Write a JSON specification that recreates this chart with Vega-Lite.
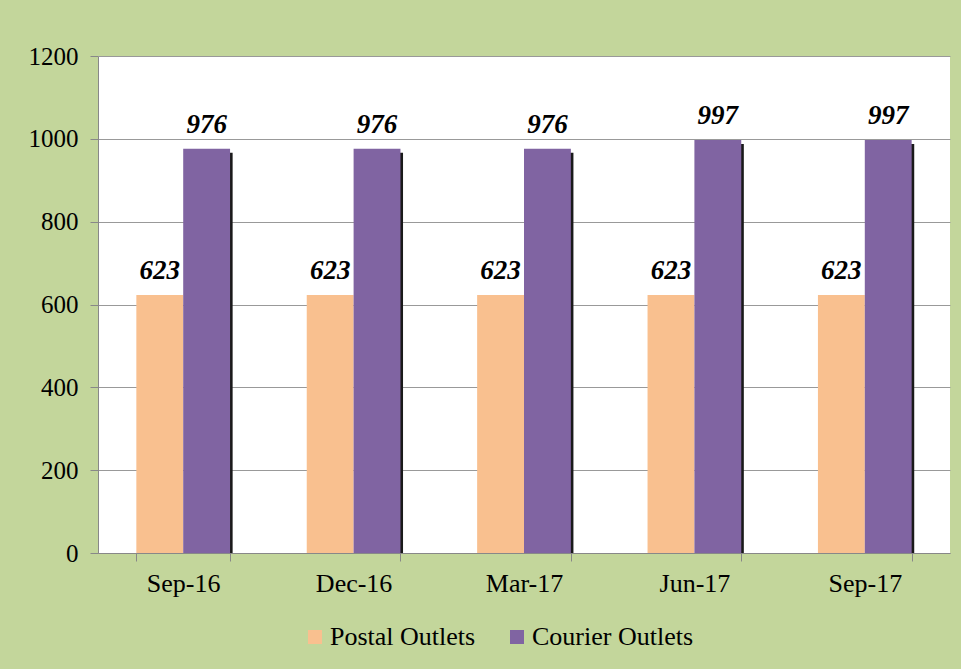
{
  "$schema": "https://vega.github.io/schema/vega-lite/v6.json",
  "autosize": {"type": "none"},
  "width": 852,
  "height": 497,
  "padding": {"left": 98, "top": 56, "right": 11, "bottom": 116},
  "background": "#c3d69b",
  "config": {
    "view": {"fill": "white", "stroke": null},
    "font": "Liberation Serif",
    "legend": {"labelFont": "Liberation Serif"},
    "axis": {"labelFont": "Liberation Serif"}
  },
  "data": {
    "values": [
      {"quarter": "Sep-16", "series": "Postal Outlets", "value": 623},
      {"quarter": "Sep-16", "series": "Courier Outlets", "value": 976},
      {"quarter": "Dec-16", "series": "Postal Outlets", "value": 623},
      {"quarter": "Dec-16", "series": "Courier Outlets", "value": 976},
      {"quarter": "Mar-17", "series": "Postal Outlets", "value": 623},
      {"quarter": "Mar-17", "series": "Courier Outlets", "value": 976},
      {"quarter": "Jun-17", "series": "Postal Outlets", "value": 623},
      {"quarter": "Jun-17", "series": "Courier Outlets", "value": 997},
      {"quarter": "Sep-17", "series": "Postal Outlets", "value": 623},
      {"quarter": "Sep-17", "series": "Courier Outlets", "value": 997}
    ]
  },
  "encoding": {
    "x": {
      "field": "quarter", "type": "nominal", "sort": null,
      "scale": {"paddingInner": 0.45, "paddingOuter": 0.225},
      "axis": {
        "title": null, "labelAngle": 0, "labelFontSize": 26, "labelColor": "black",
        "domainColor": "#888888", "tickColor": "#888888",
        "tickBand": "extent", "tickSize": 8, "labelPadding": 9, "grid": false
      }
    },
    "y": {
      "field": "value", "type": "quantitative",
      "scale": {"domain": [0, 1200]},
      "axis": {
        "title": null, "values": [0, 200, 400, 600, 800, 1000, 1200], "format": "d",
        "labelFontSize": 25, "labelColor": "black",
        "domainColor": "#888888", "tickColor": "#888888", "gridColor": "#999999",
        "tickSize": 8, "labelPadding": 12
      }
    }
  },
  "layer": [
    {
      "transform": [{"filter": "datum.series === 'Courier Outlets'"}],
      "mark": {"type": "bar", "color": "#1a1a1a", "width": {"band": 0.5}, "xOffset": 26, "yOffset": 4, "clip": true}
    },
    {
      "mark": {"type": "bar"},
      "encoding": {
        "xOffset": {"field": "series", "type": "nominal", "sort": ["Postal Outlets", "Courier Outlets"]},
        "color": {
          "field": "series", "type": "nominal", "sort": ["Postal Outlets", "Courier Outlets"],
          "scale": {"domain": ["Postal Outlets", "Courier Outlets"], "range": ["#f9c08f", "#8064a2"]},
          "legend": {
            "title": null, "orient": "none", "direction": "horizontal",
            "legendX": 204, "legendY": 568, "symbolType": "square", "symbolSize": 196,
            "symbolStrokeWidth": 0, "symbolOpacity": 1, "labelFontSize": 26, "labelColor": "black",
            "columnPadding": 28, "labelOffset": 2, "labelLimit": 400
          }
        }
      }
    },
    {
      "mark": {"type": "text", "baseline": "alphabetic", "dy": -16, "fontSize": 27, "fontWeight": "bold", "fontStyle": "italic", "font": "Liberation Serif", "color": "black"},
      "encoding": {
        "xOffset": {"field": "series", "type": "nominal", "sort": ["Postal Outlets", "Courier Outlets"]},
        "text": {"field": "value", "type": "quantitative"}
      }
    }
  ]
}
